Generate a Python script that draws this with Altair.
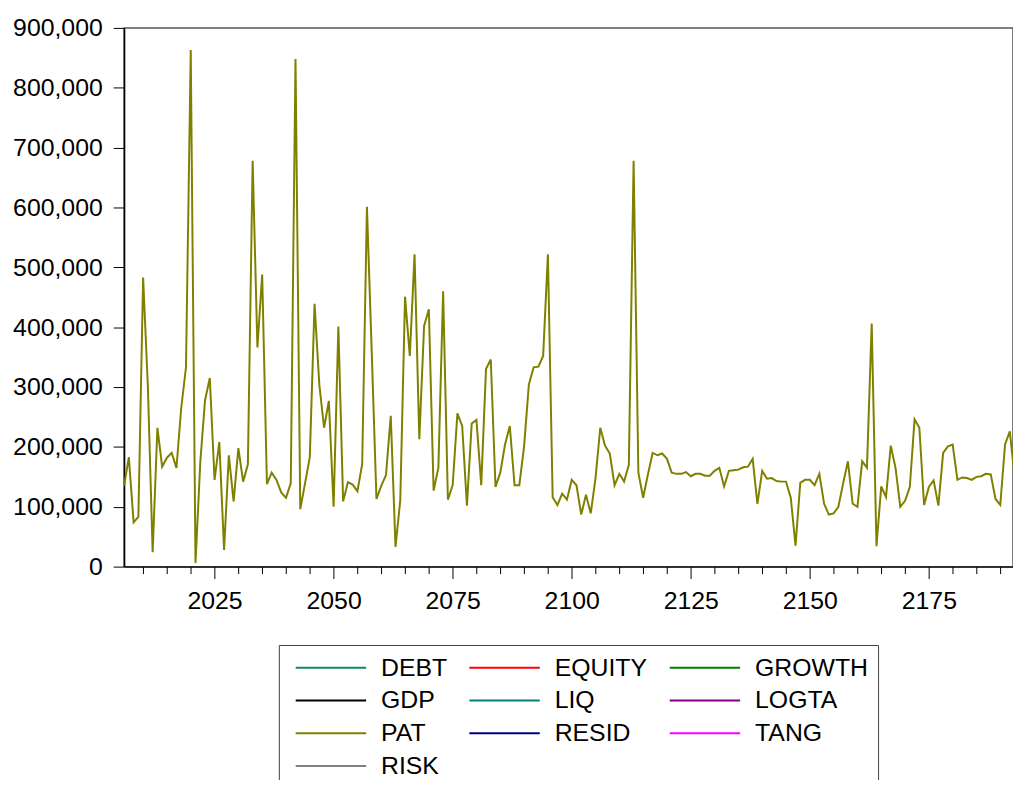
import altair as alt
import pandas as pd

# ---- data ----
years = list(range(2006, 2194))
pat = [
    135000, 183000, 74000, 83000, 483000, 300000, 24000, 232000, 167000, 182000,   # 2006-2015
    190000, 165000, 265000, 333000, 863000, 6000, 174000, 278000, 315000, 145000,  # 2016-2025
    208000, 28000, 186000, 109000, 198000, 142000, 171000, 678000, 366000, 488000, # 2026-2035
    138000, 157000, 145000, 124000, 115000, 139000, 848000, 96000, 139000, 183000, # 2036-2045
    439000, 304000, 232000, 277000, 100000, 401000, 109000, 141000, 137000, 126000,# 2046-2055
    171000, 601000, 360000, 113000, 135000, 153000, 252000, 33000, 111000, 451000, # 2056-2065
    352000, 522000, 213000, 402000, 430000, 127000, 165000, 460000, 112000, 136000,# 2066-2075
    256000, 235000, 102000, 239000, 245000, 136000, 330000, 346000, 133000, 157000,# 2076-2085
    204000, 235000, 136000, 136000, 201000, 304000, 333000, 334000, 352000, 522000,# 2086-2095
    116000, 103000, 122000, 112000, 145000, 136000, 87000, 120000, 89000, 148000,  # 2096-2105
    232000, 202000, 189000, 136000, 155000, 142000, 170000, 678000, 157000, 115000,# 2106-2115
    154000, 190000, 186000, 189000, 180000, 157000, 155000, 155000, 158000, 151000,# 2116-2125
    155000, 155000, 152000, 152000, 160000, 165000, 134000, 160000, 161000, 162000,# 2126-2135
    166000, 167000, 180000, 105000, 160000, 147000, 148000, 143000, 142000, 142000,# 2136-2145
    115000, 35000, 140000, 145000, 145000, 136000, 155000, 105000, 87000, 89000,   # 2146-2155
    100000, 139000, 176000, 105000, 100000, 176000, 165000, 406000, 34000, 134000, # 2156-2165
    116000, 202000, 165000, 100000, 110000, 133000, 246000, 232000, 103000, 133000,# 2166-2175
    144000, 102000, 190000, 201000, 204000, 145000, 149000, 148000, 145000, 150000,# 2176-2185
    151000, 155000, 154000, 113000, 103000, 204000, 226000, 150000,                # 2186-2193
]

series_names = ["DEBT", "EQUITY", "GROWTH", "GDP", "LIQ", "LOGTA", "PAT", "RESID", "TANG", "RISK"]
series_colors = ["#108a5a", "#ff0000", "#008000", "#000000", "#008080",
                 "#800080", "#808000", "#000080", "#ff00ff", "#808080"]

x_ticks = list(range(2010, 2195, 5))
y_ticks = list(range(0, 900001, 100000))

df = pd.DataFrame({"year": years, "value": pat, "series": ["PAT"] * len(years)})

FONT = "Liberation Sans"

chart = (
    alt.Chart(df)
    .mark_line(clip=True, strokeWidth=2)
    .encode(
        x=alt.X(
            "year:Q",
            scale=alt.Scale(domain=[2006, 2192.67], nice=False, zero=False),
            axis=alt.Axis(
                title=None,
                values=x_ticks,
                format="d",
                labelExpr="datum.value % 25 === 0 ? datum.label : ''",
                tickSize={"condition": {"test": "datum.value % 25 === 0", "value": 12}, "value": 7},
                labelPadding=10,
                labelOverlap=False,
                labelFlush=False,
            ),
        ),
        y=alt.Y(
            "value:Q",
            scale=alt.Scale(domain=[0, 900000], nice=False),
            axis=alt.Axis(
                title=None,
                values=y_ticks,
                format=",d",
                tickSize=11,
                labelPadding=11,
            ),
        ),
        color=alt.Color(
            "series:N",
            sort=series_names,
            scale=alt.Scale(domain=series_names, range=series_colors),
            legend=alt.Legend(
                title=None,
                orient="none",
                direction="horizontal",
                legendX=156,
                legendY=622,
                columns=3,
                symbolType="stroke",
                symbolSize=5041,
                symbolStrokeWidth=2,
                clipHeight=26,
                symbolOffset=6,
                labelOffset=14,
                labelFont=FONT,
                labelFontSize=25,
                labelColor="black",
                labelLimit=0,
                padding=10,
                rowPadding=7,
                columnPadding=15,
                strokeColor="#404040",
            ),
        ),
    )
    .properties(
        width=896,
        height=543,
        autosize=alt.AutoSizeParams(type="none"),
        padding={"left": 117, "top": 17, "right": 0, "bottom": 212},
    )
    .configure_view(stroke="#555555", strokeWidth=1.5)
    .configure_axis(
        grid=False,
        domainColor="black",
        domainWidth=1.5,
        tickColor="black",
        tickWidth=1,
        labelColor="black",
        labelFont=FONT,
        labelFontSize=25,
    )
)

chart.save("out.html", embed_options={"renderer": "svg", "actions": False})
